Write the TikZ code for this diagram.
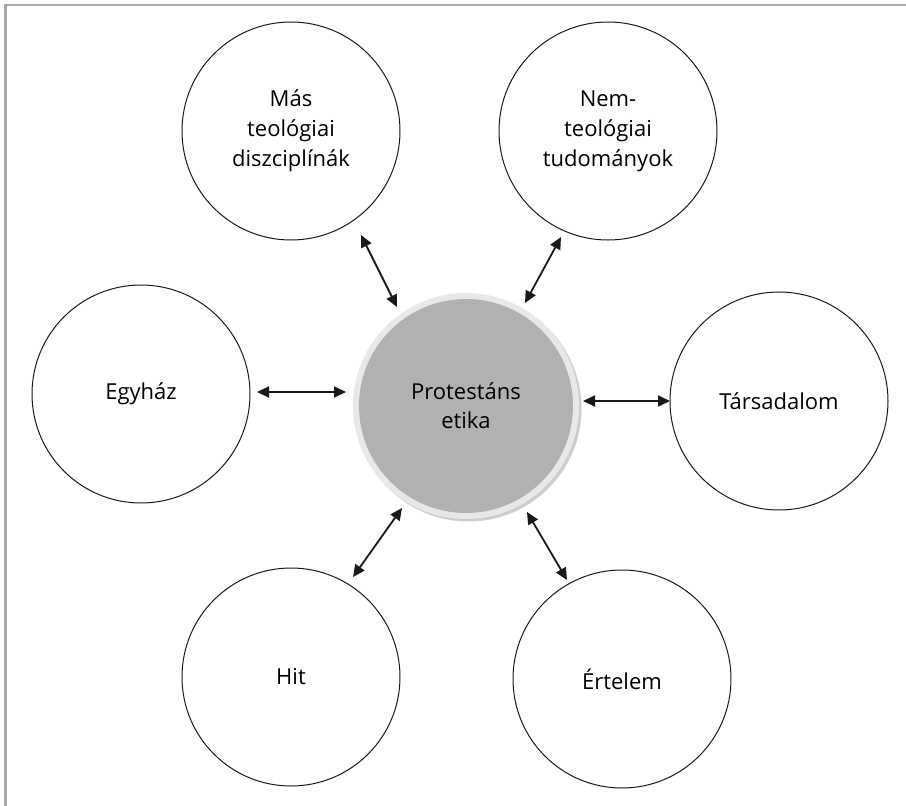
\documentclass[tikz,border=0pt]{standalone}
\usepackage{fontspec}
\setmainfont{Open Sans}
\usetikzlibrary{arrows.meta}
\definecolor{framegray}{HTML}{A8A8AC}
\definecolor{centerfill}{HTML}{B1B1B4}
\definecolor{ringgray}{HTML}{E8E8EA}
\definecolor{shadowgray}{HTML}{CDCDCF}
\tikzset{
  outer/.style={circle, draw=black!90, line width=1pt, minimum size=218pt, align=center,
    font=\fontsize{22}{30}\selectfont, inner sep=0pt},
  link/.style={{Triangle[length=12pt,width=11pt]}-{Triangle[length=12pt,width=11pt]}, line width=1.8pt, draw=black!90},
}
\begin{document}
\begin{tikzpicture}[x=1pt,y=-1pt]
\useasboundingbox (0,0) rectangle (906,806);
\draw[framegray, line width=2.5pt] (5.5,806) -- (5.5,5) -- (906,5);
% center
\fill[shadowgray] (468.5,408.5) circle (113);
\fill[ringgray] (466,406) circle (113);
\node (c) [circle, fill=centerfill, minimum size=214pt, inner sep=0pt, align=center,
  font=\fontsize{22}{29}\selectfont] at (466,406) {Protestáns\\etika};
\node (mas) [outer] at (291,131) {Más\\teológiai\\diszciplínák};
\node (nem) [outer] at (608,131) {Nem-\\teológiai\\tudományok};
\node (egy) [outer] at (141,394) {Egyház};
\node (tar) [outer] at (779,401) {Társadalom};
\node (hit) [outer] at (291,677) {Hit};
\node (ert) [outer] at (622,679) {Értelem};
\coordinate (a1) at (361,235); \coordinate (b1) at (397,307);
\coordinate (a2) at (561,237); \coordinate (b2) at (525,303);
\coordinate (a3) at (257,392); \coordinate (b3) at (346,392);
\coordinate (a4) at (583,401); \coordinate (b4) at (670,401);
\coordinate (a5) at (353,577); \coordinate (b5) at (402,508);
\coordinate (a6) at (567,580); \coordinate (b6) at (527,512);
\draw[link] (a1) -- (b1);
\draw[link] (a2) -- (b2);
\draw[link] (a3) -- (b3);
\draw[link] (a4) -- (b4);
\draw[link] (a5) -- (b5);
\draw[link] (a6) -- (b6);
\end{tikzpicture}
\end{document}
